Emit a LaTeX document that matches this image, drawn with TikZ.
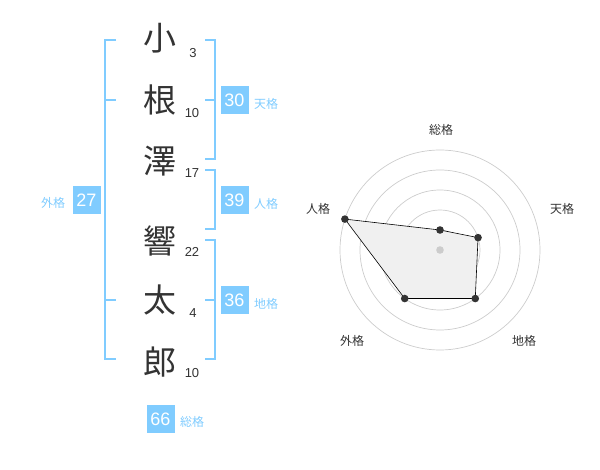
\documentclass[tikz,border=0pt]{standalone}
\usepackage{fontspec}
\setmainfont{Liberation Sans}
\newfontfamily\jpfont{Noto Sans CJK JP}
\definecolor{kaku}{RGB}{128,204,255}
\definecolor{ink}{RGB}{51,51,51}
\begin{document}
\begin{tikzpicture}[x=1pt,y=-1pt,
    kanji/.style={text=ink, inner sep=0pt, font=\jpfont\fontsize{33}{33}\selectfont},
    kakusu/.style={text=ink, inner sep=0pt, font=\fontsize{13}{13}\selectfont},
    kbox/.style={fill=kaku, text=white, minimum size=28pt, inner sep=0pt, font=\fontsize{18}{18}\selectfont},
    klabel/.style={text=kaku, inner sep=0pt, font=\jpfont\fontsize{12}{12}\selectfont},
    bracket/.style={draw=kaku, line width=2pt},
    ring/.style={draw=gray!40, line width=0.7pt},
    axislabel/.style={text=ink, inner sep=0pt, font=\jpfont\fontsize{12}{12}\selectfont}]
    \useasboundingbox (0,0) rectangle (600,470);
    % name
    \node[kanji] (c1) at (160,38) {小};
    \node[kanji] (c2) at (160,100) {根};
    \node[kanji] (c3) at (160,161) {澤};
    \node[kanji] (c4) at (160,241) {響};
    \node[kanji] (c5) at (160,300) {太};
    \node[kanji] (c6) at (160,362) {郎};
    \node[kakusu] (n1) at (193,53) {3};
    \node[kakusu] (n2) at (192,113) {10};
    \node[kakusu] (n3) at (192,173) {17};
    \node[kakusu] (n4) at (192,252) {22};
    \node[kakusu] (n5) at (193,313) {4};
    \node[kakusu] (n6) at (192,373) {10};
    % brackets
    \draw[bracket] (116,40) -- (105,40) -- (105,359) -- (116,359);
    \draw[bracket] (105,100) -- (116,100);
    \draw[bracket] (105,300) -- (116,300);
    \draw[bracket] (205,40) -- (215,40) -- (215,159) -- (205,159);
    \draw[bracket] (205,100) -- (215,100);
    \draw[bracket] (205,170) -- (215,170) -- (215,229) -- (205,229);
    \draw[bracket] (205,240) -- (215,240) -- (215,359) -- (205,359);
    \draw[bracket] (205,300) -- (215,300);
    % kaku boxes
    \node[kbox] (ten) at (234.5,100) {30};
    \node[klabel] (ten-l) at (266,104) {天格};
    \node[kbox] (jin) at (234.5,200) {39};
    \node[klabel] (jin-l) at (266,204) {人格};
    \node[kbox] (chi) at (234.5,300) {36};
    \node[klabel] (chi-l) at (266,304) {地格};
    \node[kbox] (gai) at (86.5,200) {27};
    \node[klabel] (gai-l) at (53,203) {外格};
    \node[kbox] (sou) at (160.5,419) {66};
    \node[klabel] (sou-l) at (192,422) {総格};
    % radar
    \begin{scope}[shift={(440,250)}, yscale=-1]
        \foreach \r in {20,40,60,80,100}
            \draw[ring] (0,0) circle (\r);
        \foreach \ang/\r/\name in {90/20/sou, 18/40/ten, -54/60/chi, -126/60/gai, 162/100/jin}
            \coordinate (p-\name) at (\ang:\r);
        \fill[gray!12] (p-sou) -- (p-ten) -- (p-chi) -- (p-gai) -- (p-jin) -- cycle;
        \draw[line width=0.6pt] (p-sou) -- (p-ten) -- (p-chi) -- (p-gai) -- (p-jin) -- cycle;
        \foreach \name in {sou,ten,chi,gai,jin}
            \fill[ink] (p-\name) circle (3.8);
        \fill[gray!40] (0,0) circle (3.8);
    \end{scope}
    \node[axislabel] (ax-sou) at (441,130) {総格};
    \node[axislabel] (ax-ten) at (562,209) {天格};
    \node[axislabel] (ax-chi) at (524,341) {地格};
    \node[axislabel] (ax-gai) at (352,341) {外格};
    \node[axislabel] (ax-jin) at (318,209) {人格};
\end{tikzpicture}
\end{document}
